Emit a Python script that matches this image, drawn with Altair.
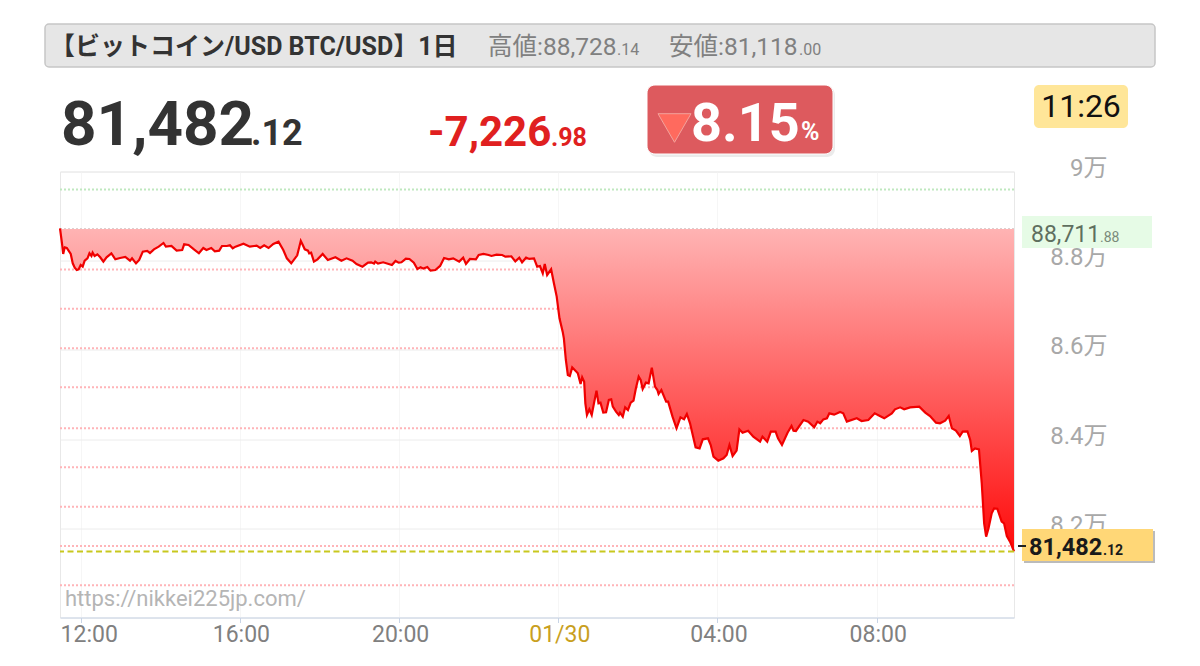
import altair as alt
import pandas as pd

# hours counted from 01/29 00:00, price in USD
hours = [11.48,11.53,11.56,11.60,11.65,11.70,11.75,11.80,11.85,11.90,11.95,12.00,12.05,12.10,12.17,12.22,12.27,12.30,12.35,12.42,12.49,12.57,12.65,12.77,12.87,12.99,13.12,13.24,13.29,13.39,13.47,13.56,13.67,13.74,13.84,13.96,14.08,14.14,14.28,14.41,14.55,14.60,14.71,14.83,14.97,15.08,15.16,15.28,15.37,15.48,15.55,15.67,15.75,15.82,15.89,16.09,16.25,16.42,16.51,16.61,16.72,16.84,16.97,17.09,17.18,17.29,17.44,17.53,
17.58,17.63,17.71,17.74,17.79,17.86,17.95,18.08,18.21,18.40,18.55,18.68,18.83,18.93,19.08,19.22,19.30,19.37,19.40,19.47,19.60,19.82,19.91,19.99,20.06,20.17,20.26,20.37,20.46,20.54,20.61,20.71,20.79,20.91,21.03,21.13,21.25,21.36,21.51,21.61,21.68,21.78,21.93,22.00,22.12,22.25,22.32,22.45,22.59,22.67,22.82,22.92,23.02,23.09,23.19,23.27,23.39,23.47,23.54,23.61,23.66,23.72,23.82,23.89,23.96,
24.03,24.11,24.14,24.19,24.24,24.29,24.35,24.43,24.49,24.56,24.60,24.65,24.68,24.72,24.78,24.84,24.90,24.96,25.01,25.06,25.13,25.20,25.27,25.33,25.37,25.45,25.52,25.55,25.62,25.68,25.75,25.82,25.89,25.95,26.02,26.07,26.12,26.20,26.27,26.35,26.43,26.49,26.52,26.59,26.71,26.76,26.87,26.97,27.07,27.16,27.23,27.31,27.45,27.55,27.63,27.76,27.83,27.90,28.02,28.15,28.23,28.30,28.38,28.48,
28.55,28.63,28.77,28.90,29.07,29.13,29.25,29.34,29.46,29.52,29.62,29.76,29.86,29.91,29.97,30.16,30.28,30.43,30.51,30.58,30.66,30.75,30.81,30.93,31.08,31.16,31.25,31.50,31.62,31.79,31.95,32.08,32.19,32.38,32.46,32.59,32.69,32.84,33.07,33.22,33.34,33.49,33.59,33.72,33.81,33.89,33.99,34.09,34.16,34.28,34.35,34.39,34.47,34.57,34.64,34.70,34.75,34.81,34.89,34.95,35.03,35.14,35.20,35.27,35.35,35.45]
prices = [88726,88390,88151,88300,88285,88218,88151,87941,87844,87792,87807,87904,87867,88001,88053,88166,88106,88181,88106,88143,88076,87979,88076,88166,88031,88061,88083,88001,88053,87941,88016,88203,88218,88173,88255,88315,88397,88315,88330,88225,88240,88367,88352,88263,88166,88285,88240,88285,88210,88225,88330,88330,88345,88278,88315,88382,88315,88337,88285,88345,88285,88375,88427,88240,88053,87941,88121,88442,
88352,88255,88225,88166,88180,87979,88031,88151,88016,88076,88001,88053,88001,87926,87867,87956,87964,87934,87979,87934,87964,87904,87994,87956,87964,88046,88039,87956,87814,87852,87822,87859,87777,87792,87882,88061,88031,88053,87979,88068,87926,88039,88031,88128,88151,88128,88106,88136,88128,88091,88098,87986,88068,87964,88068,88039,88053,87867,87881,87717,87926,87680,87807,87493,87194,
86708,86409,86260,85774,85437,85415,85609,85535,85475,85236,85385,85288,84802,84541,84668,84541,84817,85086,84802,84817,84593,84600,84877,84892,84727,84615,84541,84593,84503,84712,84653,84817,84862,85139,85400,85325,85124,85266,85251,85602,85176,85101,85011,85101,84840,84840,84503,84242,84488,84443,84563,84354,83815,83793,83995,84017,83868,83606,83517,83569,83644,83868,83621,83741,
84219,84144,84189,84055,83943,84055,83943,84167,84167,84017,83868,84144,84294,84189,84182,84428,84391,84264,84391,84354,84443,84466,84578,84548,84608,84578,84391,84466,84406,84428,84578,84518,84466,84578,84668,84712,84668,84712,84727,84593,84518,84369,84354,84414,84518,84241,84189,84070,84167,84174,83980,83733,83793,83771,83008,82111,81812,81999,82336,82448,82440,82149,82111,81827,81700,81482.12]

prev_close = 88711.88
last_price = 81482.12
upper_levels = [89599]
lower_levels = [87803,86924,86036,85161,84242,83368,82484,81603,80722]
y_ticks = [82000,84000,86000,88000,90000]
x_ticks = [12,16,20,24,28,32]

FONT = 'Roboto, "Noto Sans CJK JP", sans-serif'
OX, OY = 60, 171.5


def box(x0, y0, x1, y1, **kw):
    return alt.Chart(pd.DataFrame({"a": [0]})).mark_rect(**kw).encode(
        x=alt.value(x0 - OX), x2=alt.value(x1 - OX),
        y=alt.value(y0 - OY), y2=alt.value(y1 - OY))


def label(txt, x, y, size, color, weight="normal", align="left"):
    return alt.Chart(pd.DataFrame({"a": [0]})).mark_text(
        text=txt, font=FONT, fontSize=size, color=color, fontWeight=weight,
        align=align, baseline="alphabetic").encode(
        x=alt.value(x - OX), y=alt.value(y - OY))


df = pd.DataFrame({"hour": hours, "price": prices, "base": prev_close})
x_enc = alt.X("hour:Q", scale=alt.Scale(domain=[11.48, 35.45], nice=False, zero=False),
              axis=alt.Axis(values=x_ticks, title=None, grid=True, gridColor="#f6f6f6",
                            domainColor="#c8d4e6", tickColor="#c8d4e6", tickSize=5,
                            labelFont=FONT, labelFontSize=23, labelPadding=1,
                            labelFlush=False, labelOverlap=False, labelBaseline="top",
                            labelColor=alt.expr("datum.value==24?'#c9a01e':'#808080'"),
                            labelOffset=alt.expr("datum.value==12?8:1"),
                            labelExpr="{12:'12:00',16:'16:00',20:'20:00',24:'01/30',28:'04:00',32:'08:00'}[datum.value]"))
y_scale = alt.Scale(domain=[80000, 90000], nice=False, zero=False)
y_axis = alt.Axis(values=y_ticks, title=None, orient="right", grid=True, gridColor="#ececec",
                  domain=False, ticks=False, labelFont=FONT, labelFontSize=24,
                  labelColor="#a8a8a8", labelAlign="right", labelPadding=93, labelOffset=-3,
                  labelBaseline="middle", labelOverlap=False, labelBound=False,
                  labelExpr="{82000:'8.2万',84000:'8.4万',86000:'8.6万',88000:'8.8万',90000:'9万'}[datum.value]")
y_enc = alt.Y("price:Q", scale=y_scale, axis=y_axis)

area = alt.Chart(df).mark_area(
    color=alt.Gradient(gradient="linear", x1=1, x2=1, y1=0, y2=1,
                       stops=[alt.GradientStop(color="#ffb4b4", offset=0),
                              alt.GradientStop(color="#ff0a0a", offset=1)])
).encode(x=x_enc, y=y_enc, y2=alt.Y2("base:Q"))
line = alt.Chart(df).mark_line(color="#f00000", strokeWidth=2.2).encode(x=x_enc, y=y_enc)


def rules(vals, color, dash, w):
    return alt.Chart(pd.DataFrame({"v": vals})).mark_rule(
        color=color, strokeDash=dash, strokeWidth=w
    ).encode(y=alt.Y("v:Q", scale=y_scale, axis=y_axis))


layers = [
    rules(upper_levels, "#bfe8bf", [2, 2], 2),
    rules(lower_levels, "#ffb4b8", [2, 2], 2),
    rules([prev_close], "#ddd0d0", [2, 2], 2),
    area, line,
    rules([last_price], "#c8c81e", [6, 3.5], 2),
    # header
    box(45, 24, 1155, 67, fill="#e6e6e6", stroke="#c6c6c6", strokeWidth=1.5, cornerRadius=4),
    label("【ビットコイン/USD BTC/USD】1日", 50, 55, 25, "#333333", "bold"),
    label("高値:88,728", 488, 55, 24.5, "#808080"),
    label(".14", 617, 55, 16, "#808080"),
    label("安値:81,118", 669, 55, 24.5, "#808080"),
    label(".00", 799, 55, 16, "#808080"),
    # headline figures
    label("81,482", 61, 145, 62, "#333333", "bold"),
    label(".12", 251, 145, 36, "#333333", "bold"),
    label("-7,226", 428, 146, 42, "#e02020", "bold"),
    label(".98", 551, 146, 25, "#e02020", "bold"),
    # percent badge
    box(649, 87, 835, 157, fill="#cccccc", opacity=0.4, cornerRadius=8),
    box(647, 85, 833, 154, fill="#dd5a5e", stroke="#ffffff", strokeWidth=1, cornerRadius=8),
    alt.Chart(pd.DataFrame({"a": [0]})).mark_point(
        shape="triangle-down", filled=True, fill="#ff6a5e", stroke="#f3a39c", strokeWidth=1,
        opacity=1, size=1089).encode(x=alt.value(674.5 - OX), y=alt.value(128 - OY)),
    label("8.15", 691, 141, 54, "#ffffff", "bold"),
    label("%", 801, 140, 25, "#ffffff", "bold"),
    # clock
    box(1034, 85, 1128, 128, fill="#ffe699", cornerRadius=5),
    label("11:26", 1081, 117, 32, "#111111", align="center"),
    # previous close tag
    box(1022, 216, 1152, 248, fill="#e6fbe6"),
    label("88,711", 1031, 242, 23, "#5f6f5f"),
    label(".88", 1100, 242, 14, "#7a8a7a"),
    # last price tag
    box(1024, 531, 1155, 563, fill="#bbbbbb"),
    box(1022, 529, 1153, 561, fill="#ffd777"),
    box(1018, 545, 1026, 547, fill="#222222"),
    label("81,482", 1029, 555, 23.5, "#1a1a1a", "bold"),
    label(".12", 1103, 555, 14, "#1a1a1a", "bold"),
    # watermark
    label("https://nikkei225jp.com/", 65, 606, 22, "#b5b5b5"),
]

chart = alt.layer(*layers).resolve_scale(y="shared", x="shared").properties(
    width=954, height=446, background="#ffffff",
    padding={"left": 52, "top": 163.5, "right": 178, "bottom": 40.5},
    autosize=alt.AutoSizeParams(type="none"),
).configure_view(stroke="#e8e8e8")

chart.save("out.html", embed_options={"renderer": "svg", "actions": False})
